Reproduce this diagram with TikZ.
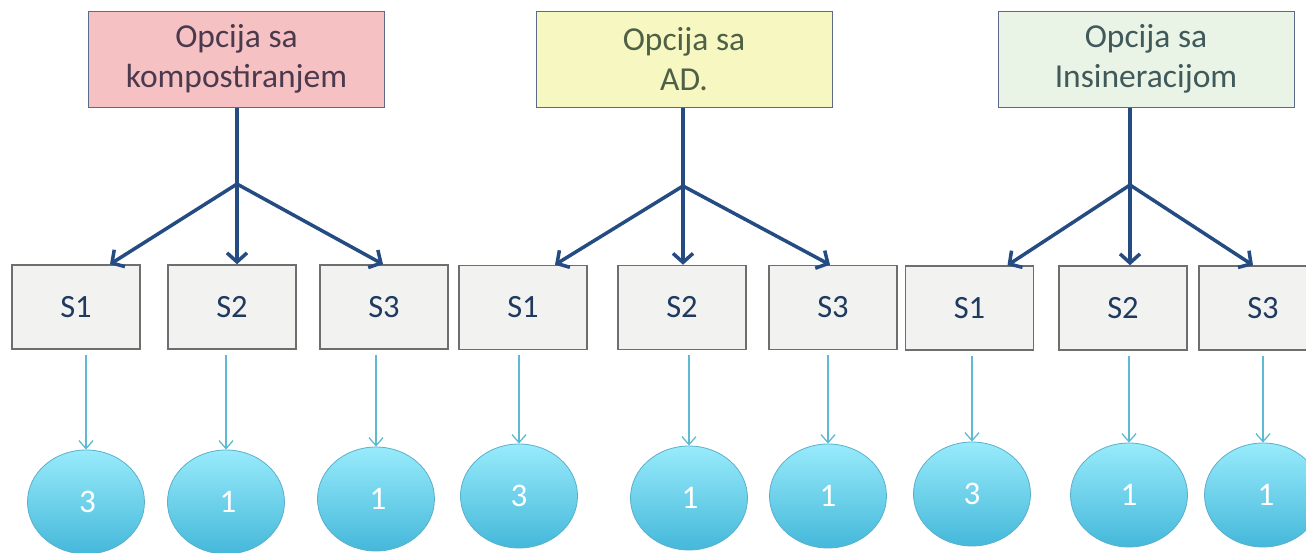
\documentclass[tikz,border=0pt]{standalone}
\usepackage{fontspec}
\setmainfont{Carlito}
\usetikzlibrary{arrows.meta,shapes.geometric}
\definecolor{pinkf}{HTML}{F6C1C2}
\definecolor{pinkt}{HTML}{4B3A4E}
\definecolor{yelf}{HTML}{F7F7C2}
\definecolor{yelt}{HTML}{4E6146}
\definecolor{grnf}{HTML}{EAF4E6}
\definecolor{grnt}{HTML}{40595B}
\definecolor{topd}{HTML}{5B6A88}
\definecolor{sboxf}{HTML}{F2F2F1}
\definecolor{sboxd}{HTML}{6E6E6E}
\definecolor{sboxt}{HTML}{1F3A5F}
\definecolor{darkarr}{HTML}{244C82}
\definecolor{thinarr}{HTML}{5EBAD2}
\definecolor{circd}{HTML}{5AAFCB}
\definecolor{circtop}{HTML}{98EBFB}
\definecolor{circbot}{HTML}{45B8DA}
\begin{document}
\begin{tikzpicture}[x=1pt,y=-1pt,
  topbox/.style={draw=topd, line width=1pt, minimum width=296pt, minimum height=96pt,
    inner sep=0pt, align=center, font=\fontsize{33.5}{40}\selectfont},
  sbox/.style={draw=sboxd, fill=sboxf, line width=1.5pt, minimum width=128pt, minimum height=84pt,
    inner sep=0pt, text=sboxt, font=\fontsize{32.5}{38}\selectfont},
  circ/.style={ellipse, draw=circd, line width=0.8pt, top color=circtop, bottom color=circbot,
    minimum width=117pt, minimum height=104pt, inner sep=0pt, text=white,
    font=\fontsize{33}{38}\selectfont},
  bigarr/.style={draw=darkarr, line width=3.5pt, -{Straight Barb[length=9pt,width=20pt,line width=3.5pt]}},
  stem/.style={draw=darkarr, line width=3.5pt},
  thinarrow/.style={draw=thinarr, line width=1.3pt, -{Straight Barb[length=8pt,width=14pt,line width=1.3pt]}}
]
\useasboundingbox (0,0) rectangle (1306,552);
\clip (0,0) rectangle (1306,552);

% ---------- group 1 ----------
\node[topbox, fill=pinkf, text=pinkt] (T1) at (236.5,59) {Opcija sa\\kompostiranjem};
\coordinate (J1) at (237,184);
\node[sbox] (A1) at (76,307) {S1};
\node[sbox] (A2) at (232,307) {S2};
\node[sbox] (A3) at (384,307) {S3};
\node[circ] (C1) at (86,502) {\hspace*{3pt}3};
\node[circ] (C2) at (226,502) {\hspace*{4pt}1};
\node[circ] (C3) at (376,499) {\hspace*{4pt}1};
\draw[stem] (T1.south -| J1) -- (J1);
\draw[bigarr] (J1) -- ([xshift=34pt]A1.north);
\draw[bigarr] (J1) -- ([xshift=5pt]A2.north);
\draw[bigarr] (J1) -- ([xshift=-1pt]A3.north);
\draw[thinarrow] ([yshift=-5pt]C1.north |- A1.south) -- (C1.north);
\draw[thinarrow] ([yshift=-5pt]C2.north |- A2.south) -- (C2.north);
\draw[thinarrow] ([yshift=-5pt]C3.north |- A3.south) -- (C3.north);

% ---------- group 2 ----------
\node[topbox, fill=yelf, text=yelt] (T2) at (684,59) {Opcija sa\\AD.};
\coordinate (J2) at (683,186);
\node[sbox] (B1) at (523,307.5) {S1};
\node[sbox] (B2) at (682,307.5) {S2};
\node[sbox] (B3) at (833,307.5) {S3};
\node[circ] (D1) at (519,496) {3};
\node[circ] (D2) at (689,498) {\hspace*{2pt}1};
\node[circ] (D3) at (828,496) {1};
\draw[stem] (T2.south -| J2) -- (J2);
\draw[bigarr] (J2) -- ([xshift=32pt]B1.north);
\draw[bigarr] (J2) -- ([xshift=1pt]B2.north);
\draw[bigarr] (J2) -- ([xshift=-3pt]B3.north);
\draw[thinarrow] ([yshift=-5pt]D1.north |- B1.south) -- (D1.north);
\draw[thinarrow] ([yshift=-5pt]D2.north |- B2.south) -- (D2.north);
\draw[thinarrow] ([yshift=-5pt]D3.north |- B3.south) -- (D3.north);

% ---------- group 3 ----------
\node[topbox, fill=grnf, text=grnt] (T3) at (1146,59) {Opcija sa\\Insineracijom};
\coordinate (J3) at (1130,185);
\node[sbox] (E1) at (969.5,308) {S1};
\node[sbox] (E2) at (1123,308) {S2};
\node[sbox] (E3) at (1263,308) {S3};
\node[circ] (F1) at (972,494) {3};
\node[circ] (F2) at (1129,495) {1};
\node[circ] (F3) at (1263,495) {\hspace*{6pt}1};
\draw[stem] (T3.south -| J3) -- (J3);
\draw[bigarr] (J3) -- ([xshift=38pt]E1.north);
\draw[bigarr] (J3) -- ([xshift=7pt]E2.north);
\draw[bigarr] (J3) -- ([xshift=-10pt]E3.north);
\draw[thinarrow] ([yshift=-5pt]F1.north |- E1.south) -- (F1.north);
\draw[thinarrow] ([yshift=-5pt]F2.north |- E2.south) -- (F2.north);
\draw[thinarrow] ([yshift=-5pt]F3.north |- E3.south) -- (F3.north);
\end{tikzpicture}
\end{document}
